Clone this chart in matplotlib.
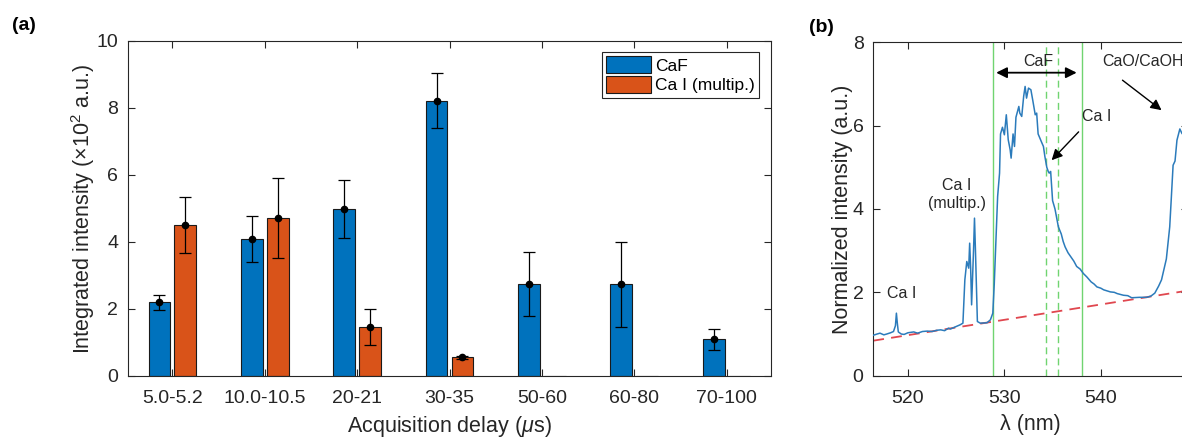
import numpy as np
import matplotlib
matplotlib.use("Agg")
import matplotlib.pyplot as plt

plt.rcParams['font.family'] = ['Liberation Sans', 'DejaVu Sans']
plt.rcParams['mathtext.fontset'] = 'custom'
plt.rcParams['mathtext.rm'] = 'Liberation Sans'
plt.rcParams['mathtext.it'] = 'Liberation Sans:italic'

# (a) bar data
delays = ["5.0-5.2", "10.0-10.5", "20-21", "30-35", "50-60", "60-80", "70-100"]
caf = [2.2, 4.09, 4.98, 8.22, 2.74, 2.74, 1.09]
caf_err = [0.22, 0.69, 0.86, 0.82, 0.95, 1.27, 0.30]
cai = [4.51, 4.72, 1.46, 0.56, 0, 0, 0]
cai_err = [0.83, 1.2, 0.53, 0.04, 0, 0, 0]

# (b) spectrum
wl = [516.4, 516.8, 517.1, 517.5, 517.8, 518.2, 518.5, 518.7, 518.8, 518.9,
      519.0, 519.3, 519.6, 520.0, 520.6, 521.0, 521.5, 522.0, 522.5, 523.0,
      523.4, 523.8, 524.2, 524.4, 524.8, 525.4, 525.7, 525.9, 526.1, 526.3,
      526.4, 526.5, 526.6, 526.8, 526.9, 527.0, 527.2, 527.5, 528.2, 528.55,
      528.8, 528.95, 529.15, 529.3, 529.5, 529.6, 529.8, 530.0, 530.2, 530.4,
      530.6, 530.7, 530.9, 531.05, 531.2, 531.5, 531.6, 531.8, 532.0, 532.15,
      532.3, 532.5, 532.75, 532.95, 533.2, 533.35, 533.5, 533.9, 534.05, 534.2,
      534.4, 534.55, 534.65, 534.8, 535.0, 535.25, 535.6, 535.9, 536.1, 536.3,
      536.6, 536.9, 537.2, 537.5, 537.85, 538.2, 538.55, 539.0, 539.3, 539.6,
      540.0, 540.3, 541.0, 541.4, 541.7, 542.35, 542.8, 543.2, 544.0, 544.77,
      545.2, 545.6, 546.0, 546.3, 546.8, 547.15, 547.3, 547.5, 547.7, 547.9,
      548.2, 548.4, 548.8]
inten = [0.97, 1.0, 1.02, 0.98, 1.0, 1.03, 1.06, 1.2, 1.5, 1.25,
         1.05, 1.0, 0.99, 1.03, 1.05, 1.02, 1.06, 1.07, 1.06, 1.09,
         1.1, 1.08, 1.14, 1.12, 1.16, 1.22, 1.26, 2.3, 2.74, 2.58,
         3.18, 2.6, 1.7, 3.0, 3.78, 3.0, 1.3, 1.26, 1.27, 1.34,
         1.5, 2.2, 3.4, 4.3, 4.86, 5.8, 5.96, 5.78, 6.26, 5.66,
         5.42, 5.22, 5.8, 5.5, 6.2, 6.46, 6.3, 6.22, 6.7, 6.94,
         6.66, 6.9, 6.86, 6.6, 6.26, 6.3, 5.8, 5.58, 5.5, 5.26,
         5.0, 4.9, 4.86, 4.9, 4.2, 4.0, 3.57, 3.4, 3.22, 3.09,
         2.95, 2.85, 2.75, 2.62, 2.56, 2.45, 2.37, 2.25, 2.2, 2.13,
         2.1, 2.06, 2.01, 2.0, 1.97, 1.93, 1.92, 1.87, 1.88, 1.88,
         1.91, 1.98, 2.15, 2.3, 2.8, 3.57, 4.2, 5.05, 5.15, 5.65,
         5.92, 5.82, 5.7]
base_x = [516.4, 549.0]
base_y = [0.84, 2.04]
caf_edges = [528.8, 538.0]
cai_lines = [534.3, 535.6]

txt = '#262626'
blue = '#0072BD'
orange = '#D95319'
green = '#70d470'

fig = plt.figure(figsize=(11.82, 4.37), dpi=100)

def style(ax):
    for s in ax.spines.values():
        s.set_color('#262626')
        s.set_linewidth(0.8)
    ax.tick_params(direction='in', top=True, right=True, length=5, width=0.8,
                   colors=txt, labelsize=14)
    ax.tick_params(axis='x', pad=10)
    ax.tick_params(axis='y', pad=7)

# ---- (a)
ax1 = fig.add_axes([0.1083, 0.1396, 0.544, 0.7666])
x = np.arange(1, len(delays) + 1)
off, w = 0.14, 0.235
ax1.bar(x - off, caf, w, color=blue, edgecolor='#1a1a1a', linewidth=0.8, label='CaF', zorder=2)
ax1.bar(x + off, cai, w, color=orange, edgecolor='#1a1a1a', linewidth=0.8, label='Ca I (multip.)', zorder=2)
ax1.errorbar(x - off, caf, yerr=caf_err, fmt='o', color='k', ms=4.5, capsize=4.5, elinewidth=0.9, capthick=0.9, zorder=3)
m = np.array(cai) > 0
ax1.errorbar((x + off)[m], np.array(cai)[m], yerr=np.array(cai_err)[m], fmt='o', color='k', ms=4.5,
             capsize=4.5, elinewidth=0.9, capthick=0.9, zorder=3)
ax1.set_xlim(0.52, 7.48)
ax1.set_ylim(0, 10)
ax1.set_xticks(x)
ax1.set_xticklabels(delays)
ax1.set_yticks([0, 2, 4, 6, 8, 10])
style(ax1)
ax1.set_xlabel(r'Acquisition delay ($\mu$s)', fontsize=15.5, color=txt, labelpad=5)
ax1.set_ylabel(r'Integrated intensity ($\times$10$^2$ a.u.)', fontsize=15.5, color=txt, labelpad=0)
leg = ax1.legend(loc='upper right', bbox_to_anchor=(0.981, 0.967), borderaxespad=0, fancybox=False,
                 fontsize=12.5, handlelength=2.6, handleheight=1.1, handletextpad=0.2,
                 borderpad=0.25, labelspacing=0.15, framealpha=1)
leg.get_frame().set_edgecolor('#262626')
leg.get_frame().set_linewidth(0.8)

# ---- (b)
ax2 = fig.add_axes([0.7388, 0.1403, 0.2659, 0.763])
ax2.plot(base_x, base_y, color='#e0474f', lw=1.3, dashes=(6, 4), zorder=1)
for v in caf_edges:
    ax2.axvline(v, color=green, lw=1.0, zorder=2)
for v in cai_lines:
    ax2.axvline(v, color=green, lw=1.0, dashes=(5, 3), zorder=2)
ax2.plot(wl, inten, color='#2b7bbb', lw=1.1, zorder=3)
ax2.set_xlim(516.4, 549.0)
ax2.set_ylim(0, 8)
ax2.set_xticks([520, 530, 540])
ax2.set_yticks([0, 2, 4, 6, 8])
style(ax2)
ax2.set_xlabel('λ (nm)', fontsize=15.5, color=txt, labelpad=5)
ax2.set_ylabel('Normalized intensity (a.u.)', fontsize=15.5, color=txt, labelpad=0)

fs = 11.5
ax2.text(519.4, 1.98, 'Ca I', fontsize=fs, ha='center', va='center', color=txt)
ax2.text(525.1, 4.35, 'Ca I\n(multip.)', fontsize=fs, ha='center', va='center', color=txt, linespacing=1.3)
ax2.text(533.5, 7.53, 'CaF', fontsize=fs, ha='center', va='center', color=txt)
ax2.annotate('', xy=(529.15, 7.27), xytext=(537.5, 7.27),
             arrowprops=dict(arrowstyle='<|-|>', color='k', lw=1.3, mutation_scale=16, shrinkA=0, shrinkB=0))
ax2.text(538.0, 6.21, 'Ca I', fontsize=fs, ha='left', va='center', color=txt)
ax2.annotate('', xy=(534.9, 5.17), xytext=(537.7, 5.85),
             arrowprops=dict(arrowstyle='-|>', color='k', lw=1.0, mutation_scale=16, shrinkA=0, shrinkB=0))
ax2.text(540.2, 7.53, 'CaO/CaOH', fontsize=fs, ha='left', va='center', color=txt)
ax2.annotate('', xy=(546.3, 6.37), xytext=(542.25, 7.09),
             arrowprops=dict(arrowstyle='-|>', color='k', lw=1.0, mutation_scale=16, shrinkA=0, shrinkB=0))

fig.text(24 / 1182, 1 - 26 / 437, '(a)', fontsize=14, fontweight='bold', ha='center', va='center')
fig.text(821 / 1182, 1 - 27 / 437, '(b)', fontsize=14, fontweight='bold', ha='center', va='center')

fig.savefig('out.png', dpi=100)
